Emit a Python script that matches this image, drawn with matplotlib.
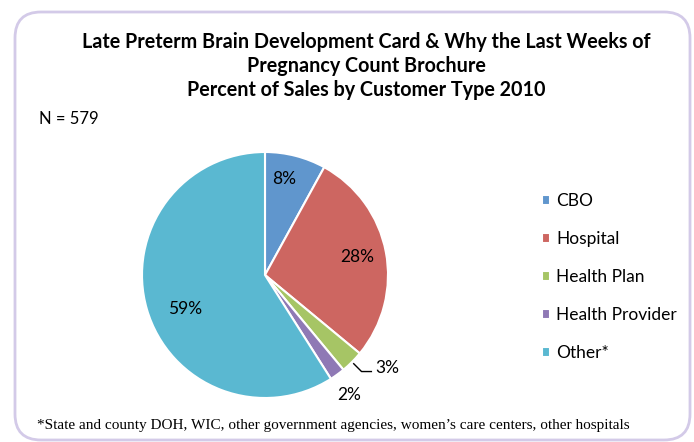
import matplotlib.pyplot as plt
import numpy as np
from matplotlib.patches import FancyBboxPatch

categories = ['CBO', 'Hospital', 'Health Plan', 'Health Provider', 'Other*']
percents = [8, 28, 3, 2, 59]
colors = ['#6096CD', '#CD6661', '#A6C565', '#8F79B5', '#5AB8D1']

title = ('Late Preterm Brain Development Card & Why the Last Weeks of\n'
         'Pregnancy Count Brochure\n'
         'Percent of Sales by Customer Type 2010')
note = '*State and county DOH, WIC, other government agencies, women\u2019s care centers, other hospitals'

W, H = 694, 442
fig = plt.figure(figsize=(W / 100, H / 100), dpi=100)

# background axis in pixel units for the frame and free text
bg = fig.add_axes([0, 0, 1, 1])
bg.set_xlim(0, W)
bg.set_ylim(H, 0)
bg.axis('off')
bg.add_patch(FancyBboxPatch((15, 12), 675, 428,
                            boxstyle='round,pad=0,rounding_size=26',
                            fc='white', ec='#D3CAE8', lw=2))

bg.text(W / 2 + 19, 66, title, ha='center', va='center', fontsize=14.2,
        fontweight='bold', family='Lato', linespacing=1.26)
bg.text(39, 119, 'N = 579', ha='left', va='center', fontsize=12, family='Lato')
bg.text(37, 425, note, ha='left', va='center', fontsize=11, family='Liberation Serif')

# pie
cx, cy, r = 265, 275, 123
ax = fig.add_axes([(cx - r) / W, (H - cy - r) / H, 2 * r / W, 2 * r / H])
wedges, _ = ax.pie(percents, colors=colors, startangle=90, counterclock=False,
                   wedgeprops=dict(edgecolor='white', linewidth=1.5))
ax.set_xlim(-1, 1)
ax.set_ylim(-1, 1)

# label positions: (radius fraction, angle offset in degrees)
lab_pos = [(0.80, 3), (0.76, 0), (1.25, 8), (1.19, -1), (0.71, 7)]
for w, p, (rf, off) in zip(wedges, percents, lab_pos):
    ang = np.deg2rad((w.theta1 + w.theta2) / 2 + off)
    ax.text(rf * np.cos(ang), rf * np.sin(ang), f'{p}%', ha='center', va='center',
            fontsize=12.5, family='Lato')

# leader line for the small green slice
w = wedges[2]
ang = np.deg2rad((w.theta1 + w.theta2) / 2)
x0, y0 = 1.02 * np.cos(ang), 1.02 * np.sin(ang)
x1, y1 = 1.11 * np.cos(ang), 1.11 * np.sin(ang)
ax.plot([x0, x1, x1 + 0.08], [y0, y1, y1], color='black', lw=1, clip_on=False)

leg = fig.legend(wedges, categories, loc='center left',
                 bbox_to_anchor=(533 / W, 1 - 277 / H), frameon=False,
                 prop=dict(family='Lato', size=12.5), borderpad=0,
                 handlelength=0.5, handleheight=0.5, handletextpad=0.35,
                 labelspacing=1.26)

fig.savefig('out.png', dpi=100)
